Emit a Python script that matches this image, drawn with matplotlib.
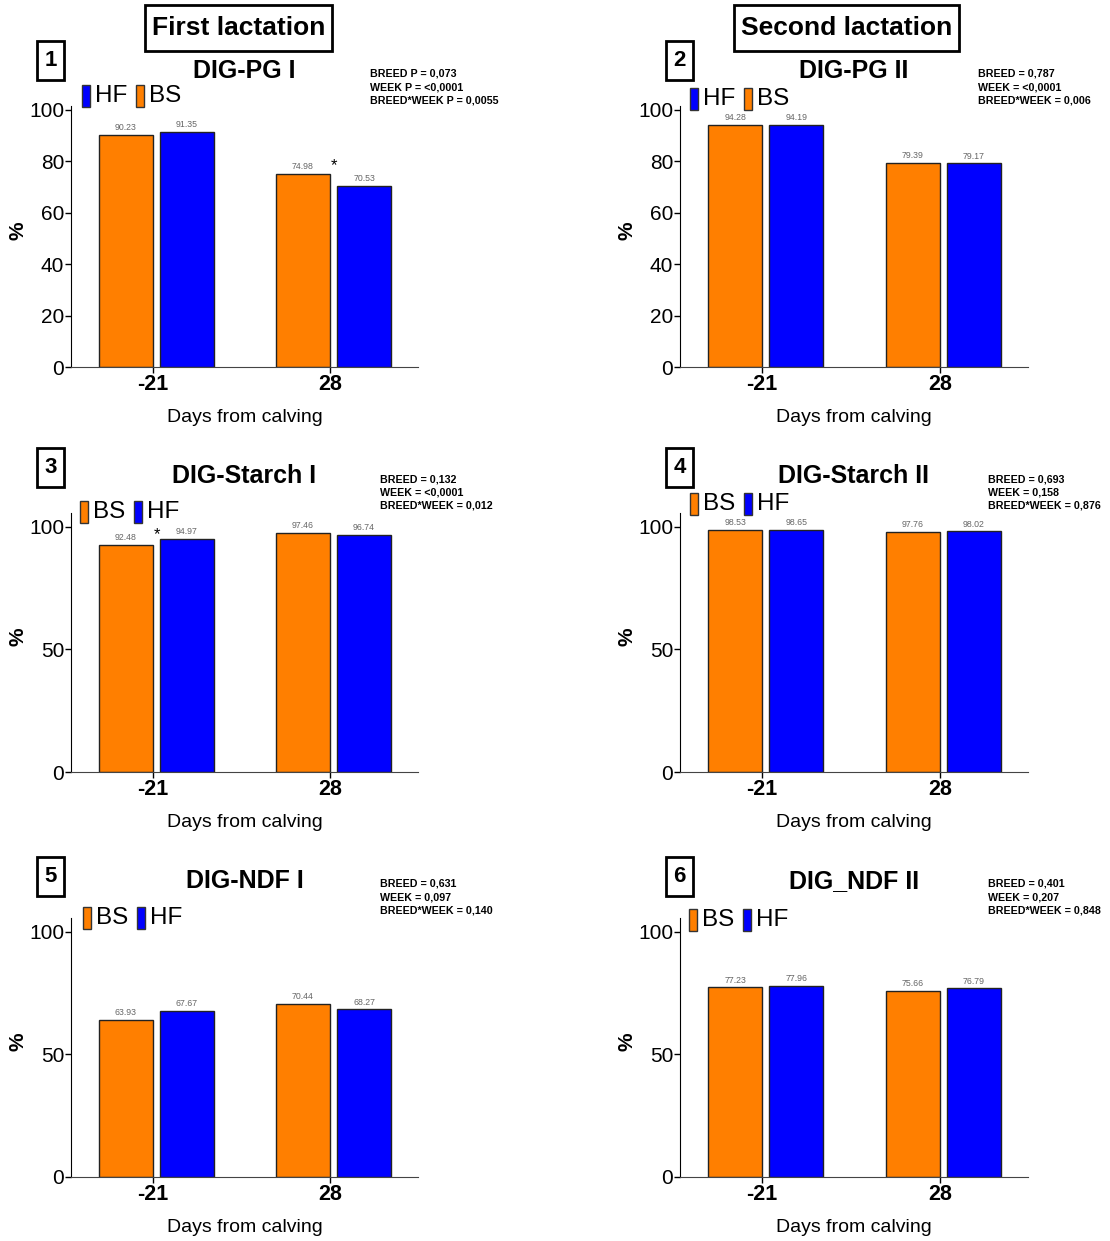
import matplotlib
matplotlib.use("Agg")
import matplotlib.pyplot as plt
from matplotlib.patches import Rectangle

plt.rcParams['font.family'] = ['Liberation Sans', 'DejaVu Sans']

# ---------- data ----------
days = ["-21", "28"]
titles = ["DIG-PG I", "DIG-PG II", "DIG-Starch I", "DIG-Starch II", "DIG-NDF I", "DIG_NDF II"]
bs_values = [[90.23, 74.98], [94.28, 79.39], [92.48, 97.46], [98.53, 97.76], [63.93, 70.44], [77.23, 75.66]]
hf_values = [[91.35, 70.53], [94.19, 79.17], [94.97, 96.74], [98.65, 98.02], [67.67, 68.27], [77.96, 76.79]]
y_ticks = [[0, 20, 40, 60, 80, 100], [0, 20, 40, 60, 80, 100],
           [0, 50, 100], [0, 50, 100], [0, 50, 100], [0, 50, 100]]
p_texts = [
    "BREED P = 0,073\nWEEK P = <0,0001\nBREED*WEEK P = 0,0055",
    "BREED = 0,787\nWEEK = <0,0001\nBREED*WEEK = 0,006",
    "BREED = 0,132\nWEEK = <0,0001\nBREED*WEEK = 0,012",
    "BREED = 0,693\nWEEK = 0,158\nBREED*WEEK = 0,876",
    "BREED = 0,631\nWEEK = 0,097\nBREED*WEEK = 0,140",
    "BREED = 0,401\nWEEK = 0,207\nBREED*WEEK = 0,848",
]
legend_order = [["HF", "BS"], ["HF", "BS"], ["BS", "HF"], ["BS", "HF"], ["BS", "HF"], ["BS", "HF"]]
# significant difference marks: (panel, day index)
stars = [(0, 1), (2, 0)]

ORANGE = "#FF7F00"
BLUE = "#0000FF"
colors = {"BS": ORANGE, "HF": BLUE}

W, H = 1110, 1241
fig = plt.figure(figsize=(W / 100, H / 100), dpi=100)


def fx(px):
    return px / W


def fy(py):
    return 1 - py / H


# ---------- layout (pixels) ----------
col_x = [71, 680]
col_w = [347, 348]
row_bottom = [367, 772, 1177]
row_top = [106, 513, 918]
ylims = [101.5, 101.5, 105.5, 105.5, 105.5, 105.5]
title_y = [71, 71, 476, 476, 881, 881]
legend_y = [96, 99, 512, 504, 918, 920]
legend_x = [82, 690, 80, 690, 83, 689]
pbox_top = [41, 41, 448, 448, 857, 857]
star_off = [0.5, 0, -1.2, 0, 0, 0]

for i in range(6):
    r, c = divmod(i, 2)
    ax = fig.add_axes([fx(col_x[c]), fy(row_bottom[r]), fx(col_w[c]),
                       (row_bottom[r] - row_top[r]) / H])
    x = [1, 2]
    bw = 0.305
    bs_x = [v - bw / 2 for v in x]
    hf_x = [v + 0.04 + bw / 2 for v in x]
    ax.bar(bs_x, bs_values[i], width=bw, color=ORANGE, edgecolor="#222222", linewidth=1)
    ax.bar(hf_x, hf_values[i], width=bw, color=BLUE, edgecolor="#222222", linewidth=1)
    for xx, vv in list(zip(bs_x, bs_values[i])) + list(zip(hf_x, hf_values[i])):
        ax.annotate(f"{vv:.2f}", (xx, vv), xytext=(0, 2), textcoords="offset points",
                    ha="center", va="bottom", fontsize=6.3, color="#666666")
    ax.set_xlim(0.537, 2.497)
    ax.set_ylim(0, ylims[i])
    ax.set_xticks(x)
    ax.set_xticklabels(days, fontsize=15.5, fontweight="bold")
    ax.set_yticks(y_ticks[i])
    ax.set_yticklabels([str(t) for t in y_ticks[i]], fontsize=15)
    ax.tick_params(length=4, width=1, pad=1, colors="black")
    ax.set_xlabel("Days from calving", fontsize=14, labelpad=10)
    for s in ["top", "right"]:
        ax.spines[s].set_visible(False)
    ax.spines["bottom"].set_color("#444444")
    ax.spines["left"].set_color("black")

    # y label "%"
    fig.text(fx(col_x[c] - 53), fy((row_top[r] + row_bottom[r]) / 2 - 6), "%",
             rotation=90, ha="center", va="center", fontsize=15, fontweight="bold")

    for p, d in stars:
        if p == i:
            top = max(bs_values[i][d], hf_values[i][d])
            ax.text(x[d] + 0.02, top + star_off[i], "*", ha="center", va="bottom", fontsize=12)

    cx = col_x[c] + col_w[c] / 2
    fig.text(fx(cx), fy(title_y[i]), titles[i], ha="center", va="center",
             fontsize=18, fontweight="bold")
    fig.text(fx(col_x[c] + 299 + (10 if i >= 2 else 0) - (0 if c == 0 else 1)), fy(title_y[i] - 2),
             p_texts[i], ha="left", va="top", fontsize=7.7, fontweight="bold", linespacing=1.38)

    # panel number
    bx = 37 if c == 0 else 666
    fig.patches.append(Rectangle((fx(bx), fy(pbox_top[i] + 39)), fx(27), 39 / H,
                                 transform=fig.transFigure, fc="white", ec="black", lw=2))
    fig.text(fx(bx + 13.5), fy(pbox_top[i] + 20), str(i + 1), ha="center", va="center",
             fontsize=16, fontweight="bold")

    # legend
    lx = legend_x[i]
    for k, lab in enumerate(legend_order[i]):
        px = lx + k * 54
        fig.patches.append(Rectangle((fx(px), fy(legend_y[i] + 11)), fx(8), 22 / H,
                                     transform=fig.transFigure, fc=colors[lab],
                                     ec="#333333", lw=1))
        fig.text(fx(px + 13), fy(legend_y[i]), lab, ha="left", va="center", fontsize=17.5)

# column headers
for txt, x0, x1 in [("First lactation", 145, 332), ("Second lactation", 734, 959)]:
    fig.patches.append(Rectangle((fx(x0), fy(51)), fx(x1 - x0), 46 / H,
                                 transform=fig.transFigure, fc="white", ec="black", lw=2))
    fig.text(fx((x0 + x1) / 2), fy(28), txt, ha="center", va="center", fontsize=19,
             fontweight="bold")

fig.savefig("out.png", dpi=100)
